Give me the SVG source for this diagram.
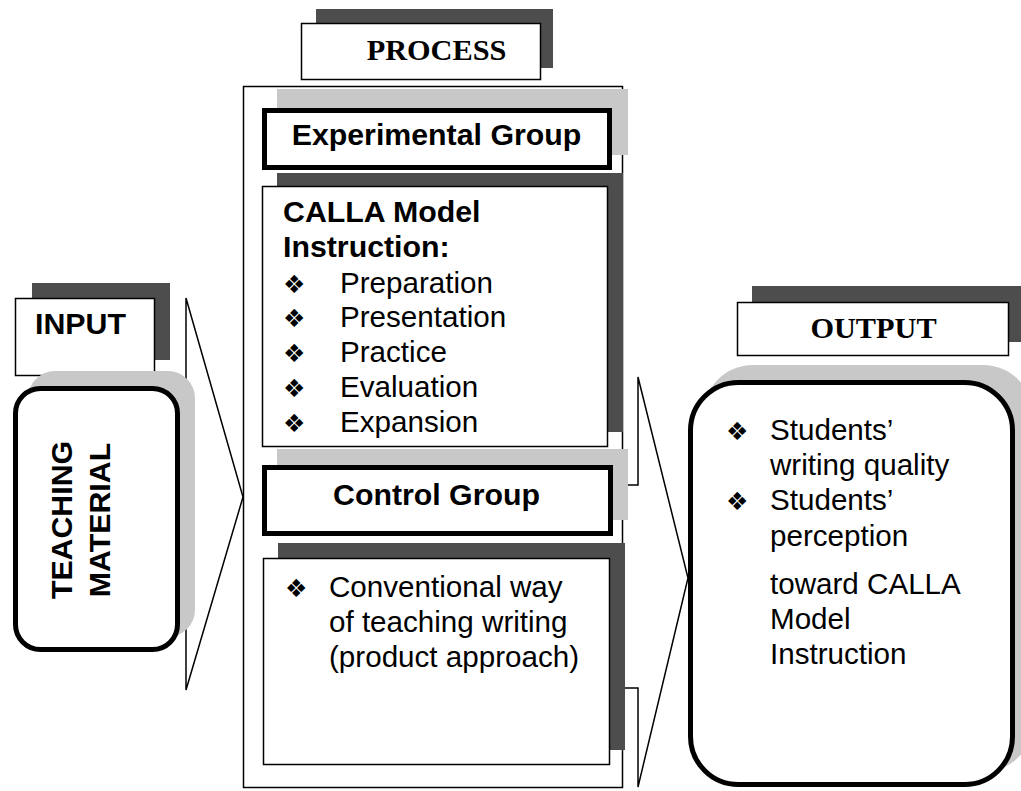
<svg xmlns="http://www.w3.org/2000/svg" width="1021" height="791" viewBox="0 0 1021 791">
<style>
.dark{fill:#4d4d4d}
.light{fill:#c8c8c8}
.thin{fill:#fff;stroke:#000;stroke-width:1.5}
.thick{fill:#fff;stroke:#000;stroke-width:5}
.line{fill:none;stroke:#000;stroke-width:1.5}
.sb{font-family:"Liberation Sans",Arial,sans-serif;font-weight:bold;font-size:30.3px;fill:#000}
.s{font-family:"Liberation Sans",Arial,sans-serif;font-size:29.6px;fill:#000}
.tb{font-family:"Liberation Serif","Times New Roman",serif;font-weight:bold;font-size:30.3px;fill:#000}
.bul{font-family:"DejaVu Sans",sans-serif;font-size:25px;fill:#000}
</style>
<rect width="1021" height="791" fill="#fff"/>

<g id="connectors">
<polyline class="line" points="178,398 186,398 186,298 243,497 186,690 186,595 181,595"/>
<polyline class="line" points="623,485 638,485 638,377 688,578 638,787 638,688 625,688"/>
</g>

<g id="process-frame">
<rect class="line" x="243.5" y="86.5" width="379" height="701"/>
</g>

<g id="process-label">
<rect class="dark" x="316" y="9" width="237" height="59"/>
<rect class="thin" x="301.5" y="23.5" width="239" height="56"/>
<text class="tb" x="436.5" y="60" text-anchor="middle">PROCESS</text>
</g>

<g id="experimental-group">
<rect class="light" x="277" y="89" width="351" height="66"/>
<rect class="thick" x="264.5" y="110.5" width="345" height="57"/>
<text class="sb" x="436.5" y="145" text-anchor="middle">Experimental Group</text>
</g>

<g id="calla-instruction">
<rect class="dark" x="277" y="173" width="346" height="259"/>
<rect class="thin" x="262.5" y="186.5" width="345" height="260"/>
<text class="sb" x="283" y="222">CALLA Model</text>
<text class="sb" x="283" y="257">Instruction:</text>
<text class="bul" x="283" y="292.5">❖</text><text class="s" x="340" y="292.5">Preparation</text>
<text class="bul" x="283" y="327.3">❖</text><text class="s" x="340" y="327.3">Presentation</text>
<text class="bul" x="283" y="362.1">❖</text><text class="s" x="340" y="362.1">Practice</text>
<text class="bul" x="283" y="396.9">❖</text><text class="s" x="340" y="396.9">Evaluation</text>
<text class="bul" x="283" y="431.7">❖</text><text class="s" x="340" y="431.7">Expansion</text>
</g>

<g id="control-group">
<rect class="light" x="277" y="449" width="351" height="71"/>
<rect class="thick" x="264.5" y="467.5" width="346" height="66"/>
<text class="sb" x="436.5" y="505" text-anchor="middle">Control Group</text>
</g>

<g id="conventional">
<rect class="dark" x="278" y="543" width="347" height="207"/>
<rect class="thin" x="263.5" y="558.5" width="346" height="206"/>
<text class="bul" x="285" y="597">❖</text>
<text class="s" x="329" y="597">Conventional way</text>
<text class="s" x="329" y="632">of teaching writing</text>
<text class="s" x="329" y="667">(product approach)</text>
</g>

<g id="input-label">
<rect class="dark" x="32" y="283" width="138" height="77"/>
<rect class="thin" x="15.5" y="298.5" width="139" height="77"/>
<text class="sb" x="35" y="334">INPUT</text>
</g>

<g id="teaching-material">
<rect class="light" x="28" y="371" width="167" height="266" rx="27"/>
<rect class="thick" x="15.5" y="388.5" width="162" height="261" rx="25"/>
<text class="sb" transform="translate(72,520) rotate(-90)" text-anchor="middle">TEACHING</text>
<text class="sb" transform="translate(110,520) rotate(-90)" text-anchor="middle">MATERIAL</text>
</g>

<g id="output-label">
<rect class="dark" x="752" y="286" width="269" height="56"/>
<rect class="thin" x="737.5" y="302.5" width="271" height="53"/>
<text class="tb" x="873.5" y="338" text-anchor="middle">OUTPUT</text>
</g>

<g id="output-box">
<rect class="light" x="703" y="365" width="330" height="407" rx="50"/>
<rect class="thick" x="690.5" y="382.5" width="322" height="402" rx="48"/>
<text class="bul" x="726" y="440">❖</text><text class="s" x="770" y="440">Students’</text>
<text class="s" x="770" y="475">writing quality</text>
<text class="bul" x="726" y="510">❖</text><text class="s" x="770" y="510">Students’</text>
<text class="s" x="770" y="546">perception</text>
<text class="s" x="770" y="594">toward CALLA</text>
<text class="s" x="770" y="629">Model</text>
<text class="s" x="770" y="664">Instruction</text>
</g>
</svg>
